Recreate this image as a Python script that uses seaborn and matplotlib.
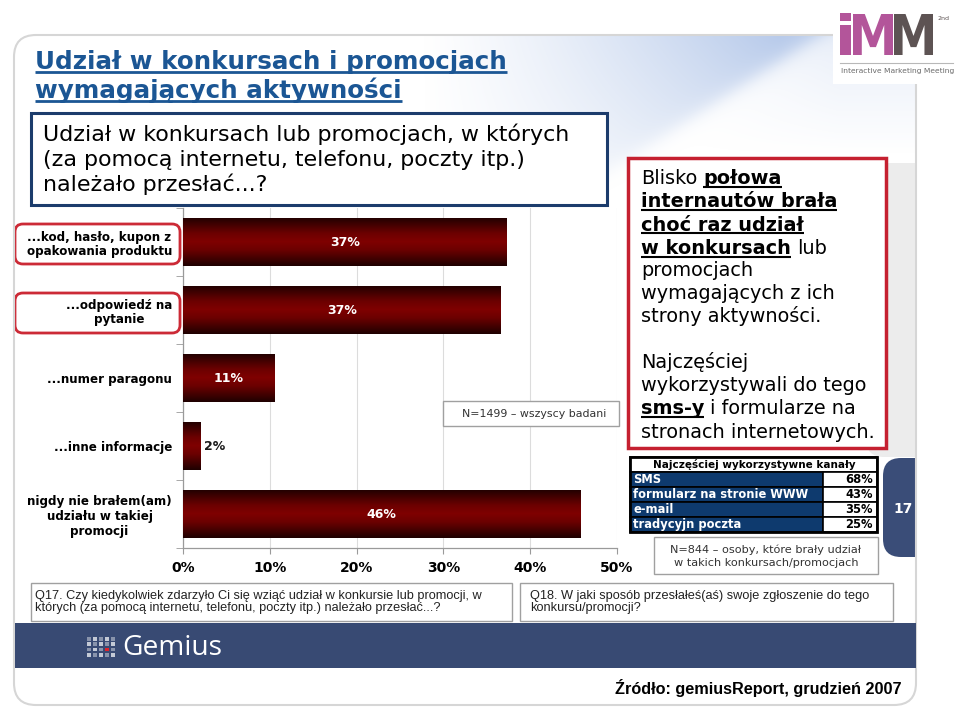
import numpy as np
import pandas as pd
import matplotlib
matplotlib.use("Agg")
import matplotlib.pyplot as plt
import seaborn as sns
from matplotlib.patches import FancyBboxPatch, Rectangle, PathPatch
from matplotlib.colors import LinearSegmentedColormap
from matplotlib.textpath import TextPath
from matplotlib.transforms import Affine2D
from matplotlib import font_manager as fm

# ---------------- data ----------------
categories = [
    "...kod, hasło, kupon z\nopakowania produktu",
    "...odpowiedź na\npytanie",
    "...numer paragonu",
    "...inne informacje",
    "nigdy nie brałem(am)\nudziału w takiej\npromocji",
]
values = [37.3, 36.6, 10.5, 2.0, 45.8]
value_labels = ["37%", "37%", "11%", "2%", "46%"]
x_ticks = [0, 10, 20, 30, 40, 50]
x_tick_labels = ["0%", "10%", "20%", "30%", "40%", "50%"]

channels = ["SMS", "formularz na stronie WWW", "e-mail", "tradycyjn poczta"]
channel_values = ["68%", "43%", "35%", "25%"]

title_lines = ["Udział w konkursach i promocjach", "wymagających aktywności"]
subtitle_lines = ["Udział w konkursach lub promocjach, w których",
                  "(za pomocą internetu, telefonu, poczty itp.)",
                  "należało przesłać...?"]
note_all = "N=1499 – wszyscy badani"
note_part = ["N=844 – osoby, które brały udział", "w takich konkursach/promocjach"]
q17 = ["Q17. Czy kiedykolwiek zdarzyło Ci się wziąć udział w konkursie lub promocji, w",
       "których (za pomocą internetu, telefonu, poczty itp.) należało przesłać...?"]
q18 = ["Q18. W jaki sposób przesłałeś(aś) swoje zgłoszenie do tego",
       "konkursu/promocji?"]
source = "Źródło: gemiusReport, grudzień 2007"
table_header = "Najczęściej wykorzystywne kanały"

# ---------------- helpers ----------------
plt.rcParams["font.family"] = ["DejaVu Sans"]
W, H = 959, 721
fig = plt.figure(figsize=(W / 100, H / 100), dpi=100)
fig.patch.set_facecolor("white")
renderer = fig.canvas.get_renderer()


def has_font(name):
    try:
        fm.findfont(fm.FontProperties(family=name), fallback_to_default=False)
        return True
    except Exception:
        return False


NARROW = "Liberation Sans Narrow" if has_font("Liberation Sans Narrow") else "Liberation Sans"
GEM = "Open Sans" if has_font("Open Sans") else "DejaVu Sans"


def tw(s, size, weight="normal", family="DejaVu Sans"):
    t = fig.text(0, 0, s, fontsize=size, fontweight=weight, family=family)
    w = t.get_window_extent(renderer).width
    t.remove()
    return w


def fit(s, width, weight="normal", family="DejaVu Sans"):
    return 20.0 * width / tw(s, 20, weight, family)


def pix_axes(z):
    a = fig.add_axes([0, 0, 1, 1], zorder=z)
    a.set_xlim(0, W)
    a.set_ylim(H, 0)
    a.axis("off")
    a.patch.set_alpha(0)
    return a


bg = pix_axes(0)
ov = pix_axes(5)

# ---------------- background panel ----------------
panel = FancyBboxPatch((14, 35), 902, 670, boxstyle="round,pad=0,rounding_size=22",
                       facecolor="white", edgecolor="none", zorder=0)
bg.add_patch(panel)

# blue swoosh at the top
gx = np.linspace(14, 916, 700)
gy = np.linspace(35, 260, 240)
X, Y = np.meshgrid(gx, gy)
d = (155 * (X - 820) + 240 * (Y - 35)) / np.hypot(155, 240)
ramp_x = np.clip((X - 420) / 360, 0, 1) ** 1.2
fade_y = np.clip(1 - (Y - 35) / 175, 0, 1) ** 0.6
blue_side = 1 / (1 + np.exp(d / 5))
light_side = 0.28 * np.clip(1 - (Y - 35) / 120, 0, 1) * np.clip((X - 680) / 160, 0, 1)
alpha = np.clip(0.9 * ramp_x * fade_y * blue_side + light_side * (1 - blue_side), 0, 1)
rgba = np.zeros(X.shape + (4,))
rgba[..., 0] = 0.69
rgba[..., 1] = 0.77
rgba[..., 2] = 0.91
rgba[..., 3] = alpha
im = bg.imshow(rgba, extent=[14, 916, 260, 35], origin="upper", aspect="auto",
               interpolation="bilinear", zorder=1)
im.set_clip_path(panel)

# gray side panel and page tab
bg.add_patch(FancyBboxPatch((866, 163), 80, 294, boxstyle="round,pad=0,rounding_size=18",
                            facecolor="#ececec", edgecolor="none", zorder=2))
bg.add_patch(FancyBboxPatch((883, 458), 60, 99, boxstyle="round,pad=0,rounding_size=18",
                            facecolor="#3a4d78", edgecolor="none", zorder=3))
bg.add_patch(Rectangle((916.5, 0), 50, H, facecolor="white", edgecolor="none", zorder=4))
bg.add_patch(FancyBboxPatch((14, 35), 902, 670, boxstyle="round,pad=0,rounding_size=22",
                            facecolor="none", edgecolor="#d6d6d6", lw=1.5, zorder=5))
bg.text(903, 509, "17", color="white", fontsize=10, fontweight="bold",
        ha="center", va="center", zorder=6)

# footer band
bg.add_patch(Rectangle((15, 623), 901, 45, facecolor="#384a73", edgecolor="none", zorder=6))
for r in range(4):
    for c in range(5):
        red = (r == 2 and c == 3)
        col = "#e8202a" if red else "#cdd2dc"
        a = 0.95 if red else (0.55 + 0.4 * ((r + c) % 2))
        bg.add_patch(Rectangle((87 + c * 6, 637 + r * 5.3), 4, 3.8, facecolor=col,
                               edgecolor="none", alpha=a, zorder=7))
bg.text(122, 648, "Gemius", color="white", family=GEM,
        fontsize=fit("Gemius", 100, family=GEM), ha="left", va="center", zorder=7)

# ---------------- logo ----------------
ov.add_patch(Rectangle((833, 4), 125, 80, facecolor="white", edgecolor="none", zorder=1))


def glyph_box(ax, s, x0, x1, ytop, ybot, color):
    tp = TextPath((0, 0), s, size=1, prop=fm.FontProperties(family="DejaVu Sans", weight="bold"))
    ext = tp.get_extents()
    tr = Affine2D().translate(-ext.x0, -ext.y0).scale((x1 - x0) / ext.width,
                                                       -(ybot - ytop) / ext.height).translate(x0, ybot)
    ax.add_patch(PathPatch(tr.transform_path(tp), facecolor=color, edgecolor="none", zorder=2))


glyph_box(ov, "i", 840, 851, 13, 55, "#b3559a")
glyph_box(ov, "M", 853, 893, 14, 55, "#b3559a")
glyph_box(ov, "M", 894, 933, 14, 55, "#5d5353")
ov.text(944, 18, "2nd", fontsize=4.5, color="#5d5353", ha="center", va="center", zorder=2)
ov.plot([840, 953], [63, 63], color="#b8b8b8", lw=0.8, zorder=2)
ov.text(841, 71, "Interactive Marketing Meeting", color="#6a6a6a",
        fontsize=fit("Interactive Marketing Meeting", 112), ha="left", va="center", zorder=2)

# ---------------- title + subtitle ----------------
TITLE_C = "#1b5694"
ts = fit(title_lines[0], 472, "bold")
for txt, yb in zip(title_lines, [69, 98]):
    t = ov.text(35, yb, txt, fontsize=ts, fontweight="bold", color=TITLE_C, va="baseline", ha="left")
    w = t.get_window_extent(renderer).width
    ov.plot([35, 35 + w], [yb + 3, yb + 3], color=TITLE_C, lw=2, solid_capstyle="butt")

ov.add_patch(Rectangle((31, 113), 576, 92, facecolor="white", edgecolor="#1c3c6c", lw=2.2, zorder=1))
ss = fit(subtitle_lines[0], 527)
for txt, yc in zip(subtitle_lines, [135, 160, 185]):
    ov.text(43, yc + 6, txt, fontsize=ss, color="black", va="baseline", ha="left", zorder=2)

# ---------------- bar chart ----------------
ax_l, ax_r, ax_t, ax_b = 183, 617, 208, 548
ax = fig.add_axes([ax_l / W, 1 - ax_b / H, (ax_r - ax_l) / W, (ax_b - ax_t) / H], zorder=2)
ax.patch.set_alpha(0)
df = pd.DataFrame({"kategoria": categories, "wartosc": values})
sns.barplot(data=df, y="kategoria", x="wartosc", orient="h", color="#7a0000",
            saturation=1, width=0.72, ax=ax, zorder=3)
cmap = LinearSegmentedColormap.from_list("bar", [(0, "#1e0000"), (0.33, "#6c0000"),
                                                  (0.5, "#7f0000"), (0.67, "#6c0000"),
                                                  (1, "#1e0000")])
grad = np.linspace(0, 1, 256).reshape(-1, 1)
for p in ax.patches:
    x0, y0, w, h = p.get_x(), p.get_y(), p.get_width(), p.get_height()
    p.set_edgecolor("none")
    g = ax.imshow(grad, extent=[x0, x0 + w, y0 + h, y0], aspect="auto", cmap=cmap,
                  interpolation="bilinear", zorder=4)
    g.set_clip_path(p)
ax.set_xlim(0, 50)
ax.set_ylim(4.5, -0.5)
ax.set_xticks(x_ticks)
ax.set_xticklabels(x_tick_labels, fontsize=10, fontweight="bold")
ax.set_xlabel("")
ax.set_ylabel("")
cs = fit("opakowania produktu", 146, "bold")
ax.set_yticks(range(len(categories)))
ax.set_yticklabels(categories, fontsize=cs, fontweight="bold", multialignment="center")
ax.set_yticks(np.arange(-0.5, 5, 1), minor=True)
ax.tick_params(axis="y", which="major", length=0, pad=8)
ax.tick_params(axis="y", which="minor", length=5, color="#9a9a9a")
ax.tick_params(axis="x", length=4, color="#9a9a9a", pad=5)
ax.grid(axis="x", color="#dcdcdc", lw=0.8)
ax.set_axisbelow(True)
for s in ["top", "right"]:
    ax.spines[s].set_visible(False)
for s in ["left", "bottom"]:
    ax.spines[s].set_color("#9a9a9a")
    ax.spines[s].set_linewidth(0.9)
for i, (v, lab) in enumerate(zip(values, value_labels)):
    if v < 5:
        ax.text(v + 0.4, i, lab, ha="left", va="center", color="#1a1a1a",
                fontsize=9, fontweight="bold", zorder=6)
    else:
        ax.text(v / 2, i, lab, ha="center", va="center", color="white",
                fontsize=9, fontweight="bold", zorder=6)

# red boxes around first two labels
for (y0, y1) in [(224, 264), (293, 333)]:
    bg.add_patch(FancyBboxPatch((15, y0), 165, y1 - y0, boxstyle="round,pad=0,rounding_size=8",
                                facecolor="white", edgecolor="#cc2a36", lw=2, zorder=3))

# N=1499 note
ov.add_patch(Rectangle((443, 401), 176, 25, facecolor="white", edgecolor="#a0a0a0", lw=1, zorder=1))
ov.text(534, 414, note_all, fontsize=fit(note_all, 145), color="#333333",
        ha="center", va="center", zorder=2)

# ---------------- right text box ----------------
ov.add_patch(Rectangle((628, 158), 258, 290, facecolor="white", edgecolor="#c52030", lw=2.5, zorder=1))
rs = fit("wykorzystywali do tego", 225)
space = {False: tw("a a", rs) - tw("aa", rs), True: tw("a a", rs, "bold") - tw("aa", rs, "bold")}


def rich(x, y, segs, size):
    for txt, bold, ul in segs:
        if txt == " ":
            x += space[bold]
            continue
        t = ov.text(x, y, txt, fontsize=size, fontweight="bold" if bold else "normal",
                    va="baseline", ha="left", color="black", zorder=2)
        w = t.get_window_extent(renderer).width
        if ul:
            ov.plot([x, x + w], [y + 2.6, y + 2.6], color="black", lw=1.5,
                    solid_capstyle="butt", zorder=2)
        x += w


lines = [
    [("Blisko", False, False), (" ", False, False), ("połowa", True, True)],
    [("internautów brała", True, True)],
    [("choć raz udział", True, True)],
    [("w konkursach", True, True), (" ", False, False), ("lub", False, False)],
    [("promocjach", False, False)],
    [("wymagających z ich", False, False)],
    [("strony aktywności.", False, False)],
    [("Najczęściej", False, False)],
    [("wykorzystywali do tego", False, False)],
    [("sms-y", True, True), (" ", False, False), ("i formularze na", False, False)],
    [("stronach internetowych.", False, False)],
]
centers = [178, 201.3, 224.6, 248, 270, 293, 316, 362, 385, 408, 432]
for segs, yc in zip(lines, centers):
    rich(641, yc + 6, segs, rs)

# ---------------- channel table ----------------
NAVY = "#0e3a6e"
tsz = fit("formularz na stronie WWW", 175, "bold")
hsz = 0.9 * min(tsz, fit(table_header, 225, "bold"))
ov.add_patch(Rectangle((630, 457), 247, 15, facecolor="white", edgecolor="black", lw=1.2, zorder=1))
ov.text(754, 465, table_header, fontsize=hsz, fontweight="bold",
        ha="center", va="center", color="black", zorder=2)
for i, (ch, cv) in enumerate(zip(channels, channel_values)):
    y0 = 472 + i * 15
    ov.add_patch(Rectangle((630, y0), 193, 15, facecolor=NAVY, edgecolor="black", lw=1.2, zorder=1))
    ov.add_patch(Rectangle((823, y0), 54, 15, facecolor="white", edgecolor="black", lw=1.2, zorder=1))
    ov.text(633, y0 + 7.5, ch, fontsize=tsz, fontweight="bold", color="white",
            ha="left", va="center", zorder=2)
    ov.text(873, y0 + 7.5, cv, fontsize=tsz, fontweight="bold", color="black",
            ha="right", va="center", zorder=2)
ov.add_patch(Rectangle((630, 457), 247, 75, facecolor="none", edgecolor="black", lw=2, zorder=3))

# N=844 note
ov.add_patch(Rectangle((654, 537), 224, 37, facecolor="white", edgecolor="#a0a0a0", lw=1, zorder=1))
ns = fit(note_part[0], 191)
for txt, yc in zip(note_part, [550, 563]):
    ov.text(766, yc, txt, fontsize=ns, color="#333333", ha="center", va="center", zorder=2)

# ---------------- question boxes ----------------
ov.add_patch(Rectangle((31, 583), 481, 38, facecolor="white", edgecolor="#a0a0a0", lw=1, zorder=1))
ov.add_patch(Rectangle((520, 583), 373, 38, facecolor="white", edgecolor="#a0a0a0", lw=1, zorder=1))
qs = fit(q17[0], 447, family=NARROW)
for txt, yc in zip(q17, [596, 608]):
    ov.text(35, yc, txt, fontsize=qs, family=NARROW, color="#222222", ha="left", va="center", zorder=2)
for txt, yc in zip(q18, [596, 608]):
    ov.text(530, yc, txt, fontsize=qs, family=NARROW, color="#222222", ha="left", va="center", zorder=2)

# source
ov.text(902, 688, source, fontsize=fit(source, 287, "bold", NARROW), fontweight="bold",
        family=NARROW, color="black", ha="right", va="center", zorder=2)

fig.savefig("out.png", dpi=100)
